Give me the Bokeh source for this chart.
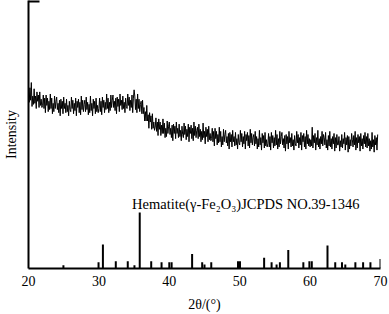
import numpy as np
from bokeh.plotting import figure
from bokeh.models import Range1d, FixedTicker, Label, ColumnDataSource
from bokeh.embed import file_html
from bokeh.resources import INLINE

# ---- measured XRD pattern (2theta from 20.0 in 0.1 deg steps, arbitrary intensity) ----
scan_start = 20.0
scan_step = 0.1
intensity = [
    171, 160, 174, 162, 179, 156, 166, 158, 173, 159, 166, 154, 170, 161, 167, 155, 170, 157, 163, 155,  # 20
    157, 167, 154, 164, 150, 167, 157, 164, 151, 161, 153, 168, 154, 164, 149, 159, 151, 166, 154, 161,  # 22
    165, 153, 159, 150, 162, 147, 163, 154, 161, 149, 165, 154, 159, 150, 163, 151, 157, 147, 161, 153,  # 24
    151, 165, 154, 162, 149, 159, 152, 164, 147, 161, 155, 163, 150, 160, 148, 166, 153, 162, 151, 158,  # 26
    162, 151, 165, 153, 160, 148, 158, 150, 166, 152, 159, 147, 163, 154, 161, 149, 164, 151, 157, 150,  # 28
    154, 164, 151, 161, 148, 165, 155, 162, 150, 160, 153, 168, 154, 164, 150, 160, 152, 167, 155, 162,  # 30
    167, 155, 161, 152, 164, 149, 165, 156, 163, 151, 168, 157, 162, 153, 166, 154, 160, 150, 164, 156,  # 32
    154, 168, 157, 165, 152, 162, 155, 167, 150, 164, 172, 166, 153, 163, 150, 168, 154, 163, 151, 158,  # 34
    161, 149, 162, 149, 155, 142, 151, 142, 157, 142, 148, 135, 150, 141, 147, 134, 149, 135, 141, 133,  # 36
    136, 145, 132, 141, 128, 144, 134, 141, 128, 138, 130, 144, 130, 140, 126, 135, 127, 142, 130, 137,  # 38
    141, 129, 135, 126, 138, 123, 139, 130, 137, 125, 141, 130, 135, 126, 139, 127, 133, 123, 137, 129,  # 40
    126, 140, 129, 137, 124, 134, 127, 139, 122, 136, 130, 138, 125, 135, 123, 141, 128, 137, 126, 133,  # 42
    136, 125, 139, 127, 134, 122, 132, 124, 140, 126, 132, 120, 136, 127, 134, 122, 137, 124, 130, 123,  # 44
    125, 135, 122, 132, 118, 135, 125, 132, 119, 129, 121, 136, 122, 132, 117, 127, 119, 134, 122, 129,  # 46
    133, 121, 127, 118, 130, 115, 131, 122, 129, 117, 133, 122, 127, 118, 131, 119, 125, 115, 129, 121,  # 48
    119, 133, 122, 130, 117, 127, 120, 132, 115, 129, 123, 131, 118, 128, 116, 134, 121, 130, 119, 126,  # 50
    129, 118, 132, 120, 127, 115, 125, 117, 133, 119, 126, 114, 130, 121, 128, 116, 131, 118, 124, 117,  # 52
    120, 130, 117, 127, 114, 131, 121, 128, 116, 126, 118, 133, 119, 129, 115, 125, 117, 132, 120, 127,  # 54
    131, 119, 125, 116, 128, 113, 129, 120, 127, 115, 132, 121, 126, 117, 130, 118, 124, 114, 128, 120,  # 56
    118, 132, 121, 129, 116, 126, 119, 131, 114, 128, 122, 130, 117, 127, 115, 133, 120, 129, 118, 125,  # 58
    117, 124, 118, 136, 116, 128, 121, 130, 114, 126, 119, 133, 117, 125, 115, 127, 120, 132, 118, 129,  # 60
    126, 119, 131, 116, 124, 114, 128, 118, 132, 117, 125, 115, 127, 120, 130, 113, 126, 116, 129, 119,  # 62
    119, 127, 113, 123, 117, 129, 116, 125, 120, 131, 114, 126, 119, 128, 112, 127, 115, 124, 118, 130,  # 64
    124, 117, 128, 119, 132, 114, 126, 116, 129, 121, 127, 113, 130, 118, 125, 115, 128, 120, 131, 117,  # 66
    127, 116, 130, 118, 125, 113, 123, 115, 131, 117, 124, 112, 128, 119, 126, 114, 129,                # 68-69.6
]

# ---- JCPDS 39-1346 reference lines (2theta, relative intensity) ----
ref_pos = [24.96, 29.95, 30.57, 32.4, 34.1, 35.05, 35.8, 37.43, 38.9, 40.0, 40.33,
           43.24, 44.67, 45.0, 45.96, 49.76, 50.04, 53.47, 54.53, 55.24, 55.71,
           56.9, 59.04, 59.9, 60.24, 62.47, 63.57, 64.53, 65.0, 66.43, 67.53,
           68.57, 70.0]
ref_rel = [6, 11, 43, 13, 13, 6, 100, 13, 11, 11, 11,
           26, 11, 7, 11, 13, 13, 19, 11, 7, 11,
           33, 11, 13, 13, 41, 11, 11, 7, 11, 11,
           11, 17]
stick_scale = 0.54  # drawn height per unit of relative intensity

x_ticks = [20, 30, 40, 50, 60, 70]
ref_label = "Hematite(\u03b3-Fe\u2082O\u2083)JCPDS NO.39-1346"
x_title = "2\u03b8/(\u00b0)"

two_theta = np.round(scan_start + scan_step * np.arange(len(intensity)), 2)
scan = ColumnDataSource(dict(x=two_theta, y=intensity))
rel = np.array(ref_rel, dtype=float)
sticks = ColumnDataSource(dict(x=ref_pos, y0=np.zeros(len(ref_pos)), y1=rel * stick_scale))

FONT = "Liberation Serif"

p = figure(width=389, height=316, output_backend="svg", toolbar_location=None,
           x_range=Range1d(20, 70), y_range=Range1d(0, 258),
           min_border_left=22, min_border_right=9, min_border_top=0, min_border_bottom=48)
p.outline_line_color = None
p.grid.visible = False
p.background_fill_color = "white"
p.border_fill_color = "white"

p.line("x", "y", source=scan, line_color="black", line_width=1)
p.segment(x0="x", y0="y0", x1="x", y1="y1", source=sticks, line_color="black", line_width=2)

p.add_layout(Label(x=34.71, y=62, text=ref_label, text_font=FONT, text_font_size="14.5px",
                   text_baseline="alphabetic", text_color="black"))

xa = p.xaxis[0]
xa.ticker = FixedTicker(ticks=x_ticks)
xa.major_tick_in = 0
xa.major_tick_out = 0
xa.minor_tick_in = 0
xa.minor_tick_out = 0
xa.axis_line_width = 2
xa.axis_line_color = "black"
xa.major_label_text_font = FONT
xa.major_label_text_font_size = "14px"
xa.major_label_text_color = "black"
xa.major_label_standoff = 7
xa.axis_label = x_title
xa.axis_label_text_font = FONT
xa.axis_label_text_font_size = "14px"
xa.axis_label_text_font_style = "normal"
xa.axis_label_text_color = "black"
xa.axis_label_standoff = 8

ya = p.yaxis[0]
ya.ticker = FixedTicker(ticks=[257])
ya.major_label_overrides = {257: ""}
ya.major_tick_in = 11
ya.major_tick_out = 0
ya.major_tick_line_width = 2
ya.minor_tick_in = 0
ya.minor_tick_out = 0
ya.axis_line_width = 2
ya.axis_line_color = "black"
ya.major_label_standoff = 0
ya.axis_label = "Intensity"
ya.axis_label_text_font = FONT
ya.axis_label_text_font_size = "14px"
ya.axis_label_text_font_style = "normal"
ya.axis_label_text_color = "black"
ya.axis_label_standoff = 10

open("out.html", "w").write(file_html(p, INLINE))
